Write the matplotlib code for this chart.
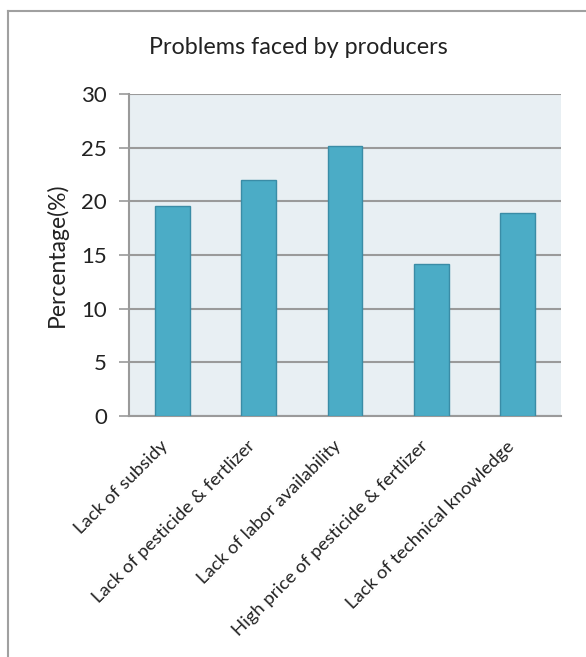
import matplotlib
matplotlib.use("Agg")
import matplotlib.pyplot as plt
from matplotlib.lines import Line2D
from matplotlib.transforms import ScaledTranslation

categories = ["Lack of subsidy", "Lack of pesticide & fertlizer", "Lack of labor availability",
              "High price of pesticide & fertlizer", "Lack of technical knowledge"]
values = [19.6, 22.0, 25.2, 14.2, 18.9]
yticks = [0, 5, 10, 15, 20, 25, 30]

plt.rcParams['font.family'] = ['Lato', 'DejaVu Sans']

fig = plt.figure(figsize=(5.86, 6.57), dpi=100)
fig.patch.set_facecolor('white')
ax = fig.add_axes([129/586, 1 - 416/657, (561 - 129)/586, (416 - 94)/657])
ax.set_facecolor('#E8EFF3')

x = list(range(len(categories)))
ax.bar(x, values, width=0.405, color='#4BACC6', edgecolor='#3A8CA6', linewidth=1.0, zorder=3)
ax.set_xlim(-0.5, len(categories) - 0.5)
ax.set_ylim(0, 30)
ax.set_yticks(yticks)
ax.set_yticklabels([str(t) for t in yticks], fontsize=16, color='#222222')
ax.yaxis.grid(True, color='#9A9A9A', linewidth=1.5, zorder=1)
ax.set_axisbelow(True)
ax.tick_params(axis='y', length=7, width=1.2, color='#9A9A9A', pad=9)
ax.tick_params(axis='x', length=0, pad=10)
ax.set_xticks(x)
ax.set_xticklabels(categories, rotation=45, ha='right', va='top', rotation_mode='anchor',
                   fontsize=13.3, color='#222222')
offset = ScaledTranslation(-12/100, -8/100, fig.dpi_scale_trans)
for lab in ax.get_xticklabels():
    lab.set_transform(lab.get_transform() + offset)
for s in ['top', 'right']:
    ax.spines[s].set_visible(False)
ax.spines['left'].set_color('#9A9A9A')
ax.spines['left'].set_linewidth(1.5)
ax.spines['bottom'].set_color('#9A9A9A')
ax.spines['bottom'].set_linewidth(1.5)

ax.set_ylabel('Percentage(%)', fontsize=16.5, color='#222222')
ax.yaxis.set_label_coords((68 - 129) / 432, 0.5)
fig.text(298/586, 1 - 47/657, 'Problems faced by producers', ha='center', va='center',
         fontsize=16.8, color='#222222')

# outer frame lines (top and left)
fig.add_artist(Line2D([8/586, 1.0], [1 - 11/657, 1 - 11/657], transform=fig.transFigure,
                      color='#A0A0A0', linewidth=1.5))
fig.add_artist(Line2D([8/586, 8/586], [1 - 11/657, 0], transform=fig.transFigure,
                      color='#A0A0A0', linewidth=1.5))

fig.savefig('out.png', dpi=100, facecolor='white')
